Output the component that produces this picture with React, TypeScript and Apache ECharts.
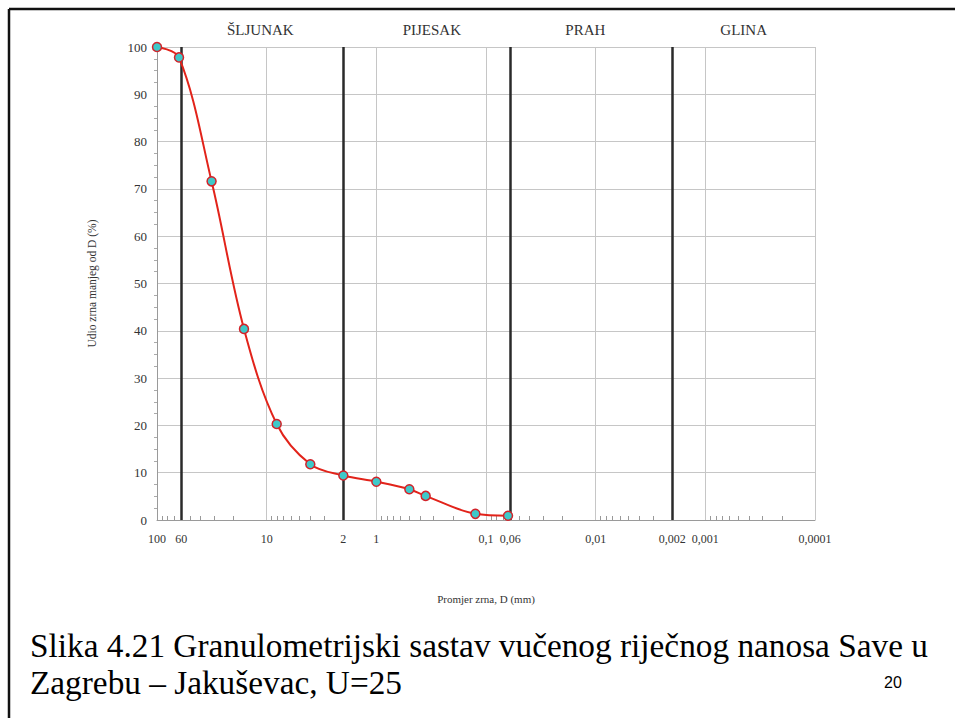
import React, { useEffect, useRef } from "react";
import * as echarts from "echarts";

// Grain diameter D (mm) and passing percentage
const DIAMETERS = [100, 63, 31.8, 16.1, 8.1, 4.0, 2, 1, 0.5, 0.355, 0.125, 0.063];
const PASSING = [100, 97.8, 71.6, 40.4, 20.3, 11.8, 9.4, 8.1, 6.5, 5.1, 1.3, 0.9];

// x-axis tick labels (mm)
const X_LABELS = [100, 60, 10, 2, 1, 0.1, 0.06, 0.01, 0.002, 0.001, 0.0001];
// class boundaries (mm) and class names
const BOUNDARIES = [60, 2, 0.06, 0.002];
const CLASS_NAMES = ["ŠLJUNAK", "PIJESAK", "PRAH", "GLINA"];
const CLASS_EDGES = [60, 2, 0.06, 0.002, 0.0001];
const CLASS_LABEL_SHIFT = [-2, 5, -6, 0];

const X_MIN = 0.0001;
const X_MAX = 100;
const Y_MIN = 0;
const Y_MAX = 100;

const Y_TITLE = "Udio zrna manjeg od D (%)";
const X_TITLE = "Promjer zrna, D (mm)";
const CAPTION_1 = "Slika 4.21 Granulometrijski sastav vučenog riječnog nanosa Save u";
const CAPTION_2 = "Zagrebu – Jakuševac, U=25";
const PAGE_NO = "20";

const SERIF = '"Liberation Serif", "Times New Roman", serif';

function minorTicks(): number[] {
  const out: number[] = [];
  for (let e = -4; e < 2; e++) {
    for (let m = 2; m <= 9; m++) {
      out.push(Number((m * Math.pow(10, e)).toPrecision(6)));
    }
  }
  return out;
}

export default function App() {
  const ref = useRef<HTMLDivElement>(null);

  useEffect(() => {
    if (!ref.current) return;
    const chart = echarts.init(ref.current, null, { renderer: "svg" });

    const fmt = (v: number) => String(v).replace(".", ",");

    const option: any = {
      animation: false,
      backgroundColor: "#ffffff",
      grid: { left: 157, right: 140, top: 47, bottom: 198, containLabel: false },
      xAxis: [
        {
          type: "log",
          logBase: 10,
          min: X_MIN,
          max: X_MAX,
          inverse: true,
          position: "bottom",
          name: X_TITLE,
          nameLocation: "middle",
          nameGap: 73,
          nameTextStyle: { fontFamily: SERIF, fontSize: 11, color: "#333" },
          axisLine: { show: true, onZero: false, lineStyle: { color: "#9a9a9a", width: 1 } },
          axisTick: { show: false },
          axisLabel: {
            customValues: X_LABELS,
            formatter: (v: number) => fmt(v),
            fontFamily: SERIF,
            fontSize: 12,
            color: "#333",
            margin: 13,
            hideOverlap: false,
          },
          splitLine: { show: true, lineStyle: { color: "#c6c6c6", width: 1 } },
        },
        {
          type: "log",
          logBase: 10,
          min: X_MIN,
          max: X_MAX,
          inverse: true,
          position: "bottom",
          axisLine: { show: false },
          axisLabel: { show: false },
          splitLine: { show: false },
          axisTick: {
            show: true,
            inside: true,
            length: 4,
            customValues: minorTicks(),
            lineStyle: { color: "#999", width: 1 },
          },
        },
      ],
      yAxis: {
        type: "value",
        min: Y_MIN,
        max: Y_MAX,
        interval: 10,
        name: Y_TITLE,
        nameLocation: "middle",
        nameGap: 59,
        nameTextStyle: { fontFamily: SERIF, fontSize: 11.5, color: "#333" },
        axisLine: { show: true, lineStyle: { color: "#9a9a9a", width: 1 } },
        axisTick: { show: false },
        minorTick: { show: true, splitNumber: 4, length: 3, lineStyle: { color: "#aaa" } },
        axisLabel: { fontFamily: SERIF, fontSize: 13, color: "#333", margin: 10 },
        splitLine: { show: true, lineStyle: { color: "#c6c6c6", width: 1 } },
      },
      series: [
        {
          type: "line",
          xAxisIndex: 0,
          data: DIAMETERS.map((d, i) => [d, PASSING[i]]),
          smooth: 0.35,
          symbol: "circle",
          symbolSize: 9,
          z: 5,
          lineStyle: { color: "#e2231a", width: 2 },
          itemStyle: { color: "#3ec9c9", borderColor: "#d2232a", borderWidth: 1.5 },
          markLine: {
            silent: true,
            precision: 6,
            symbol: ["none", "none"],
            label: { show: false },
            lineStyle: { color: "#2a2a2a", width: 2.5, type: "solid" },
            data: BOUNDARIES.map((b) => [{ coord: [b, Y_MIN] }, { coord: [b, Y_MAX] }]),
            z: 1,
          },
          markArea: {
            silent: true,
            itemStyle: { color: "rgba(0,0,0,0)" },
            label: {
              show: true,
              position: "top",
              distance: 10,
              fontFamily: SERIF,
              fontSize: 15,
              color: "#333",
            },
            data: CLASS_NAMES.map((name, i) => [
              { name, xAxis: CLASS_EDGES[i], yAxis: Y_MIN, label: { offset: [CLASS_LABEL_SHIFT[i], 0] } },
              { xAxis: CLASS_EDGES[i + 1], yAxis: Y_MAX },
            ]),
          },
        },
      ],
      graphic: [
        {
          type: "line",
          shape: { x1: 9, y1: 9, x2: 955, y2: 9 },
          style: { stroke: "#111", lineWidth: 2.5 },
        },
        {
          type: "line",
          shape: { x1: 9, y1: 9, x2: 9, y2: 718 },
          style: { stroke: "#111", lineWidth: 2.5 },
        },
        {
          type: "text",
          x: 30,
          y: 627,
          style: {
            text: CAPTION_1 + "\n" + CAPTION_2,
            font: `33.3px ${SERIF}`,
            lineHeight: 37,
            fill: "#000",
            verticalAlign: "top",
          },
        },
        {
          type: "text",
          x: 893,
          y: 682,
          style: {
            text: PAGE_NO,
            font: '16px "Liberation Sans", Arial, sans-serif',
            fill: "#000",
            align: "center",
            verticalAlign: "middle",
          },
        },
      ],
    };

    chart.setOption(option);
    return () => chart.dispose();
  }, []);

  return (
    <div
      ref={ref}
      style={{ position: "fixed", left: 0, top: 0, width: 955, height: 718, background: "#fff" }}
    />
  );
}
